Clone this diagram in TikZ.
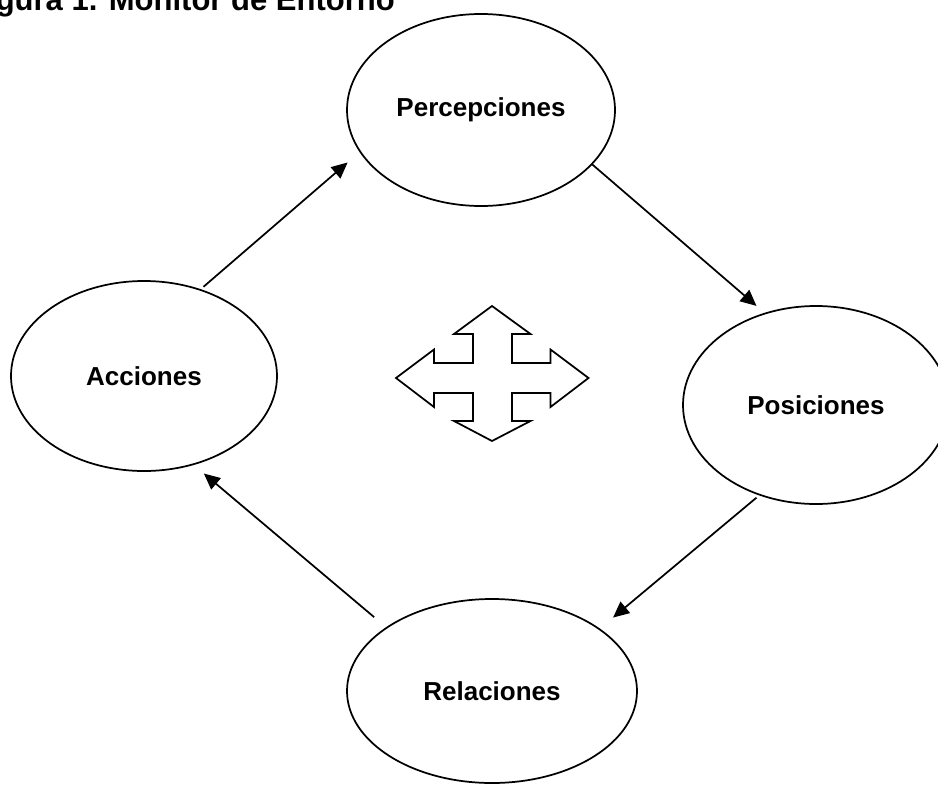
\documentclass[tikz,border=0pt]{standalone}
\usepackage{fontspec}
\setmainfont{Liberation Sans}
\usetikzlibrary{shapes.geometric,arrows.meta}
\tikzset{
  ovalbox/.style={draw, ellipse, line width=1.3pt, inner sep=0pt, outer sep=0pt,
    font=\fontsize{19.5}{23}\selectfont\bfseries},
  flowarrow/.style={line width=1.3pt, -{Triangle[length=12pt,width=11pt]}},
  crossarrow/.style={draw, line width=1.3pt, line join=miter, fill=white}
}
\begin{document}
\begin{tikzpicture}[x=0.75pt,y=-0.75pt]
\useasboundingbox (0,0) rectangle (938,785);
\node[anchor=base east, font=\fontsize{23.25}{27}\selectfont\bfseries, inner sep=0pt] (title) at (395,10) {Figura 1. Monitor de Entorno};
\node[ovalbox, minimum width=201pt, minimum height=144pt] (perc) at (481,110) {Percepciones};
\node[ovalbox, minimum width=199.5pt, minimum height=142.5pt] (acc) at (144,376) {Acciones};
\node[ovalbox, minimum width=199.5pt, minimum height=148.5pt] (pos) at (816,405) {Posiciones};
\node[ovalbox, minimum width=217.5pt, minimum height=138pt] (rel) at (492,691) {Relaciones};
\draw[flowarrow, shorten <=3.5pt, shorten >=12.5pt] (acc.57.1) -- (perc.199.1);
\draw[flowarrow, shorten >=8.7pt] (perc.334.3) -- (pos.119.25);
\draw[flowarrow, shorten <=3.4pt, shorten >=13.5pt] (pos.238.1) -- (rel.30.2);
\draw[flowarrow, shorten <=12.3pt, shorten >=10.7pt] (rel.149.7) -- (acc.299.7);
\path[crossarrow] (492,306) -- (530.5,334) -- (512,334) -- (512,363) -- (550.5,363) -- (550.5,349.5)
  -- (588.5,378) -- (550.5,407) -- (550.5,393) -- (512,393) -- (512,421) -- (530.5,421)
  -- (492,441) -- (454,421) -- (473,421) -- (473,393) -- (434,393) -- (434,407)
  -- (396,378) -- (434,349.5) -- (434,363) -- (473,363) -- (473,334) -- (454,334) -- cycle;
\end{tikzpicture}
\end{document}
